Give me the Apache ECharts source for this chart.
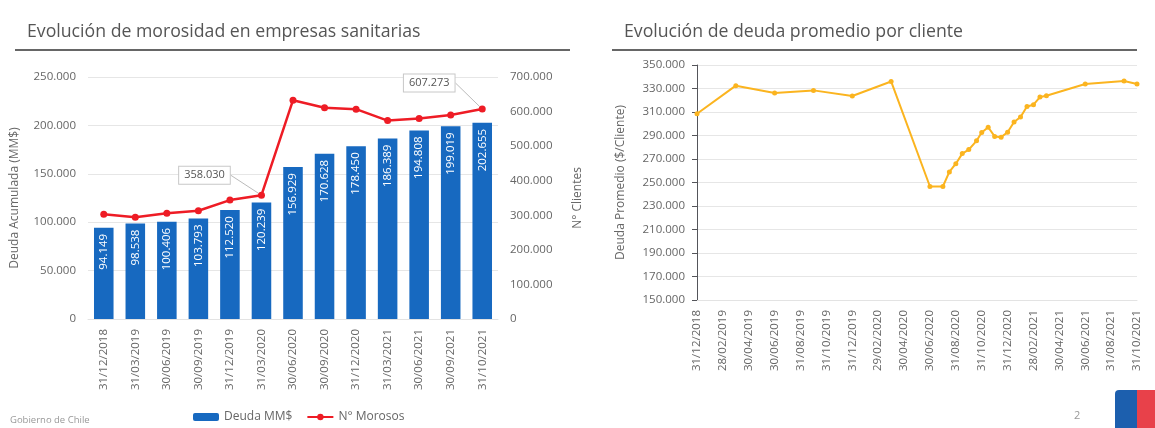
<!DOCTYPE html>
<html>
<head>
<meta charset="utf-8">
<script src="https://cdn.jsdelivr.net/npm/echarts@6/dist/echarts.min.js"></script>
<style>
  html, body { margin: 0; padding: 0; background: #fff; }
  #chart { width: 1155px; height: 428px; }
</style>
</head>
<body>
<div id="chart"></div>
<script>
// left chart: morosidad
const fechas = ['31/12/2018', '31/03/2019', '30/06/2019', '30/09/2019', '31/12/2019', '31/03/2020',
  '30/06/2020', '30/09/2020', '31/12/2020', '31/03/2021', '30/06/2021', '30/09/2021', '31/10/2021'];
const deudaMM = [94149, 98538, 100406, 103793, 112520, 120239, 156929, 170628, 178450, 186389, 194808, 199019, 202655];
const morosos = [303000, 294000, 306000, 313000, 344000, 358030, 633000, 611000, 607000, 574000, 580000, 590000, 607273];
const calloutIdx = [5, 12];

// right chart: deuda promedio (x = months since 31/12/2018)
const mesTicks = ['31/12/2018', '28/02/2019', '30/04/2019', '30/06/2019', '31/08/2019', '31/10/2019',
  '31/12/2019', '29/02/2020', '30/04/2020', '30/06/2020', '31/08/2020', '31/10/2020', '31/12/2020',
  '28/02/2021', '30/04/2021', '30/06/2021', '31/08/2021', '31/10/2021'];
const promMes = [0, 3, 6, 9, 12, 15, 18, 19, 19.5, 20, 20.5, 21, 21.6, 22, 22.5, 23, 23.5, 24, 24.5, 25, 25.5, 26, 26.5, 27, 30, 33, 34];
const promDeuda = [308500, 332400, 326100, 328400, 323600, 336000, 246600, 246600, 259000, 266000, 274600, 278000,
  285500, 292600, 297000, 289200, 288600, 292800, 301500, 305800, 314700, 316200, 322700, 323800, 333800, 336400, 333800];

const fmt = v => String(Math.round(v)).replace(/\B(?=(\d{3})+(?!\d))/g, '.');
const txt = '#666';
const font = 'Open Sans';
const fs = 11.5;

const chart = echarts.init(document.getElementById('chart'));

chart.setOption({
  backgroundColor: '#fff',
  textStyle: { fontFamily: font },
  animation: false,
  title: [
    { text: 'Evolución de morosidad en empresas sanitarias', left: 22, top: 18,
      textStyle: { fontSize: 17.7, fontWeight: 'normal', color: '#555', fontFamily: font } },
    { text: 'Evolución de deuda promedio por cliente', left: 619, top: 18,
      textStyle: { fontSize: 17.7, fontWeight: 'normal', color: '#555', fontFamily: font } }
  ],
  graphic: [
    { type: 'line', shape: { x1: 15, y1: 50, x2: 570, y2: 50 }, style: { stroke: '#666', lineWidth: 2 } },
    { type: 'line', shape: { x1: 612, y1: 50, x2: 1137, y2: 50 }, style: { stroke: '#666', lineWidth: 2 } },
    { type: 'text', left: 10, top: 415, style: { text: 'Gobierno de Chile', fontSize: 9.5, fill: '#999', fontFamily: font } },
    { type: 'text', left: 1074, top: 410, style: { text: '2', fontSize: 11, fill: '#999', fontFamily: font } },
    { type: 'rect', shape: { x: 1115, y: 390, width: 22, height: 38, r: [4, 0, 0, 0] }, style: { fill: '#1c5fae' } },
    { type: 'rect', shape: { x: 1137, y: 390, width: 18, height: 38 }, style: { fill: '#e8414a' } }
  ],
  legend: {
    left: 188, top: 406, itemWidth: 26, itemHeight: 8, itemGap: 14,
    textStyle: { fontSize: 12, color: txt },
    data: ['Deuda MM$', 'N° Morosos']
  },
  grid: [
    { left: 88, right: 657, top: 77, bottom: 109 },
    { left: 697, right: 18, top: 65, bottom: 128 }
  ],
  xAxis: [
    {
      type: 'category', gridIndex: 0, data: fechas,
      axisLine: { lineStyle: { color: '#e3e3e3' } },
      axisTick: { show: false },
      axisLabel: { rotate: 90, interval: 0, fontSize: fs, color: txt, margin: 10 }
    },
    {
      type: 'value', gridIndex: 1, min: 0, max: 34, interval: 2,
      splitLine: { show: false },
      axisLine: { show: true, lineStyle: { color: '#e3e3e3' } },
      axisTick: { show: false },
      axisLabel: { rotate: 90, fontSize: fs, color: txt, margin: 10, formatter: v => mesTicks[v / 2] }
    }
  ],
  yAxis: [
    {
      type: 'value', gridIndex: 0, min: 0, max: 250000, interval: 50000,
      name: 'Deuda Acumulada (MM$)', nameLocation: 'middle', nameRotate: 90, nameGap: 67,
      nameTextStyle: { fontSize: 12, color: txt },
      axisLabel: { fontSize: fs, color: txt, margin: 12, formatter: fmt },
      splitLine: { lineStyle: { color: '#e6e6e6' } }
    },
    {
      type: 'value', gridIndex: 0, min: 0, max: 700000, interval: 100000, position: 'right',
      name: 'N° Clientes', nameLocation: 'middle', nameRotate: 90, nameGap: 74,
      nameTextStyle: { fontSize: 12, color: txt },
      axisLabel: { fontSize: fs, color: txt, margin: 12, formatter: fmt },
      splitLine: { show: false }
    },
    {
      type: 'value', gridIndex: 1, min: 150000, max: 350000, interval: 20000,
      name: 'Deuda Promedio ($/Cliente)', nameLocation: 'middle', nameRotate: 90, nameGap: 70,
      nameTextStyle: { fontSize: 12, color: txt },
      axisLabel: { fontSize: fs, color: txt, margin: 12, formatter: fmt },
      splitLine: { lineStyle: { color: '#e6e6e6' } }
    }
  ],
  series: [
    {
      name: 'Deuda MM$', type: 'bar', xAxisIndex: 0, yAxisIndex: 0,
      data: deudaMM, barCategoryGap: '38%',
      itemStyle: { color: '#1769c0' },
      label: {
        show: true, position: 'insideTop', rotate: 90, align: 'right', verticalAlign: 'middle',
        distance: 6, color: '#fff', fontSize: fs, formatter: p => fmt(p.value)
      }
    },
    {
      name: 'N° Morosos', type: 'line', xAxisIndex: 0, yAxisIndex: 1,
      data: morosos.map((v, i) => calloutIdx.includes(i) ? { value: v, label: { show: true } } : v),
      color: '#ee1c25',
      lineStyle: { width: 2.5 },
      symbol: 'circle', symbolSize: 7,
      label: {
        show: false, position: 'top', formatter: p => fmt(p.value),
        fontSize: 11, color: '#555', backgroundColor: '#fff',
        borderColor: '#c8c8c8', borderWidth: 1, padding: [3, 5]
      },
      labelLine: { show: true, lineStyle: { color: '#bbb', width: 1 } },
      labelLayout: p => p.dataIndex === 5 ? { dx: -57, dy: -3 } : (p.dataIndex === 12 ? { dx: -53, dy: -9 } : {})
    },
    {
      name: 'Deuda promedio', type: 'line', xAxisIndex: 1, yAxisIndex: 2,
      data: promMes.map((m, i) => [m, promDeuda[i]]),
      color: '#fbb41f',
      lineStyle: { width: 2 },
      symbol: 'circle', symbolSize: 5
    }
  ]
});
</script>
</body>
</html>
